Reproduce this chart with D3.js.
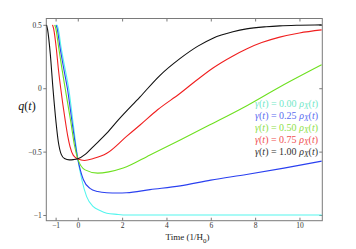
<!DOCTYPE html>
<html><head><meta charset="utf-8">
<script src="https://cdn.jsdelivr.net/npm/d3@7"></script>
<style>body{margin:0;background:#fff}svg{display:block}</style>
</head><body>
<svg id="c" width="356" height="249"></svg>
<script>
const xTicks = [-1, 0, 2, 4, 6, 8, 10];
const yTicks = [-1, -0.5, 0, 0.5];
const gammaLabels = ["0.00", "0.25", "0.50", "0.75", "1.00"];
const seriesColors = ["#55f5ee", "#2a40f0", "#6ee020", "#f02020", "#111111"];
const textColors = ["#72e8c8", "#5a6cf0", "#8ee048", "#f05050", "#333333"];

const tCyan  = [-0.93,-0.88,-0.75,-0.58,-0.41,-0.2,0,0.18,0.4,0.7,1.0,1.31,1.76,2.2,3,5,8,11];
const qCyan  = [0.5,0.47,0.32,0.16,0.0,-0.289,-0.557,-0.72,-0.855,-0.934,-0.965,-0.986,-0.995,-1.0,-1.0,-1.0,-1.0,-1.0];
const tBlue  = [-0.98,-0.93,-0.8,-0.64,-0.47,-0.24,0,0.25,0.55,0.9,1.31,1.8,2.2,3.26,4.62,6,7.61,9.3,11];
const qBlue  = [0.5,0.47,0.32,0.16,0.0,-0.289,-0.557,-0.72,-0.79,-0.815,-0.825,-0.827,-0.825,-0.80,-0.77,-0.725,-0.68,-0.63,-0.575];
const tGreen = [-1.04,-0.99,-0.86,-0.72,-0.57,-0.31,-0.15,0,0.33,0.9,1.4,2.05,3.26,4.62,5.96,7.5,9.11,11];
const qGreen = [0.5,0.47,0.32,0.16,0.0,-0.27,-0.45,-0.557,-0.644,-0.67,-0.66,-0.63,-0.526,-0.408,-0.289,-0.15,0.01,0.185];
const tRed   = [-1.14,-1.09,-0.96,-0.88,-0.77,-0.57,-0.45,-0.35,-0.2,0,0.3,0.7,1.31,2.2,2.81,3.6,4.62,5.3,6.1,7.0,7.61,8.3,9.11,10,11];
const qRed   = [0.5,0.47,0.3,0.16,0.0,-0.25,-0.38,-0.46,-0.53,-0.557,-0.57,-0.555,-0.513,-0.38,-0.29,-0.17,-0.04,0.055,0.16,0.255,0.31,0.36,0.403,0.436,0.46];
const tBlack = [-1.41,-1.36,-1.24,-1.12,-0.98,-0.88,-0.75,-0.6,-0.38,-0.2,0,0.35,0.7,1.31,1.83,2.8,3.7,4.62,5.4,6.1,7.0,7.61,8.5,9.11,10,11];
const qBlack = [0.5,0.46,0.27,0.0,-0.27,-0.42,-0.52,-0.555,-0.565,-0.563,-0.557,-0.52,-0.46,-0.355,-0.25,-0.07,0.1,0.235,0.33,0.395,0.445,0.468,0.485,0.492,0.497,0.5];

const times = [tCyan, tBlue, tGreen, tRed, tBlack];
const qs = [qCyan, qBlue, qGreen, qRed, qBlack];

const W = 356, H = 249;
const m = {l: 46.3, t: 18.5, r: 33.7, b: 28.3};
const svg = d3.select("#c");
const x = d3.scaleLinear().domain([-1.42, 11.03]).range([m.l, W - m.r]);
const y = d3.scaleLinear().domain([-1.045, 0.55]).range([H - m.b, m.t]);
const font = "'Liberation Serif','DejaVu Serif',serif";
const axisCol = "#7a7a7a";

svg.append("defs").append("clipPath").attr("id", "clip").append("rect")
  .attr("x", m.l).attr("y", m.t).attr("width", W - m.l - m.r).attr("height", H - m.t - m.b);

svg.append("rect").attr("x", m.l).attr("y", m.t).attr("width", W - m.l - m.r).attr("height", H - m.t - m.b)
  .attr("fill", "none").attr("stroke", axisCol).attr("stroke-width", 1);

function styleAxis(g) {
  g.select(".domain").remove();
  g.selectAll(".tick line").attr("stroke", axisCol);
  g.selectAll(".tick text").attr("font-family", font).attr("font-size", 7.5).attr("fill", "#333");
}
const fmt = d => d < 0 ? "\u2212" + Math.abs(d) : String(d);

svg.append("g").attr("transform", `translate(0,${H - m.b})`)
  .call(d3.axisBottom(x).tickValues(xTicks).tickSize(-3).tickPadding(2).tickFormat(fmt)).call(styleAxis);
svg.append("g").attr("transform", `translate(0,${m.t})`)
  .call(d3.axisTop(x).tickValues(xTicks).tickSize(-3).tickFormat("")).call(styleAxis);
svg.append("g").attr("transform", `translate(${m.l},0)`)
  .call(d3.axisLeft(y).tickValues(yTicks).tickSize(3).tickPadding(1.5).tickFormat(fmt)).call(styleAxis);
svg.append("g").attr("transform", `translate(${W - m.r},0)`)
  .call(d3.axisRight(y).tickValues(yTicks).tickSize(-3).tickFormat("")).call(styleAxis);

const line = d3.line().x(d => x(d[0])).y(d => y(d[1])).curve(d3.curveMonotoneX);
const gl = svg.append("g").attr("clip-path", "url(#clip)");
times.forEach((ts, i) => {
  const pts = ts.map((t, j) => [t, qs[i][j]]);
  gl.append("path").datum(pts).attr("d", line).attr("fill", "none")
    .attr("stroke", seriesColors[i]).attr("stroke-width", 1.1);
});

// legend
const lx = 318, ly0 = 107, dy = 12;
gammaLabels.forEach((g, i) => {
  const t = svg.append("text").attr("x", lx).attr("y", ly0 + i * dy).attr("text-anchor", "end")
    .attr("font-family", font).attr("font-size", 10).attr("fill", textColors[i]);
  t.append("tspan").attr("font-style", "italic").text("\u03b3");
  t.append("tspan").text("(");
  t.append("tspan").attr("font-style", "italic").text("t");
  t.append("tspan").text(") = " + g + " ");
  t.append("tspan").attr("font-style", "italic").text("\u03c1");
  t.append("tspan").attr("font-style", "italic").attr("font-size", 7.5).attr("dy", 2).text("X");
  t.append("tspan").attr("dy", -2).text("(");
  t.append("tspan").attr("font-style", "italic").text("t");
  t.append("tspan").text(")");
});

// axis labels
const yl = svg.append("text").attr("x", 27).attr("y", 110).attr("text-anchor", "middle")
  .attr("font-family", font).attr("font-size", 12).attr("fill", "#111");
yl.append("tspan").attr("font-style", "italic").text("q");
yl.append("tspan").text("(");
yl.append("tspan").attr("font-style", "italic").text("t");
yl.append("tspan").text(")");

const xl = svg.append("text").attr("x", 187.5).attr("y", 240).attr("text-anchor", "middle")
  .attr("font-family", font).attr("font-size", 9).attr("fill", "#222");
xl.append("tspan").text("Time (1/H");
xl.append("tspan").attr("font-size", 7).attr("dy", 2.5).text("0");
xl.append("tspan").attr("dy", -2.5).text(")");
</script>
</body></html>
